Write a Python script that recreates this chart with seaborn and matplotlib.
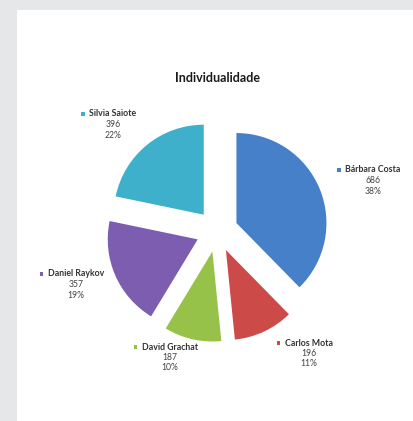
import matplotlib
matplotlib.use("Agg")
import matplotlib.pyplot as plt
import seaborn as sns
from matplotlib.patches import Rectangle

# Chart data
names = ["Bárbara Costa", "Carlos Mota", "David Grachat", "Daniel Raykov", "Silvia Saiote"]
counts = [686, 196, 187, 357, 396]
shares = ["38%", "11%", "10%", "19%", "22%"]
title = "Individualidade"

sns.set_theme(style="white")
plt.rcParams["font.family"] = ["Lato", "DejaVu Sans"]

colors = sns.color_palette(["#4680c9", "#cc4a47", "#97c24a", "#7d5db0", "#3fb0cc"])

W, H = 414, 421
fig = plt.figure(figsize=(W / 100, H / 100), dpi=100, facecolor="#e6e7e9")
ax = fig.add_axes([0, 0, 1, 1])
ax.axis("off")

# white card behind the chart
ax.add_patch(Rectangle((17, 0), W - 17, H - 10, facecolor="white", edgecolor="none", zorder=0))

# exploded pie, drawn in pixel units (y measured from the bottom)
wedges, _ = ax.pie(
    counts,
    colors=colors,
    startangle=90,
    counterclock=False,
    radius=90,
    center=(217, H - 231),
    explode=[21] * len(counts),
    wedgeprops=dict(linewidth=0),
)
for w in wedges:
    w.set_zorder(2)
ax.set_xlim(0, W)
ax.set_ylim(0, H)
ax.set_aspect("equal")

ax.text(217.5, H - 78, title, ha="center", va="center", fontsize=9,
        fontweight="bold", color="#1a1a1a")

# label block anchors: centre of the name line (x, y from top)
label_pos = [(373, 170), (309, 343), (170, 347), (76, 274), (113, 114)]
line_gap = 10.5
text_color = "#333333"

fig.canvas.draw()
renderer = fig.canvas.get_renderer()
for name, n, pct, col, (lx, ly) in zip(names, counts, shares, colors, label_pos):
    t = ax.text(lx, H - ly, name, ha="center", va="center", fontsize=6.3,
                fontweight="bold", color=text_color, zorder=3)
    ax.text(lx, H - ly - line_gap, str(n), ha="center", va="center",
            fontsize=6.2, color="#444444", zorder=3)
    ax.text(lx, H - ly - 2 * line_gap, pct, ha="center", va="center",
            fontsize=6.2, color="#444444", zorder=3)
    bb = t.get_window_extent(renderer).transformed(ax.transData.inverted())
    ax.add_patch(Rectangle((bb.x0 - 8, H - ly - 1.5), 3.2, 3.2,
                           facecolor=col, edgecolor="none", zorder=3))

fig.savefig("out.png", dpi=100, facecolor=fig.get_facecolor())
